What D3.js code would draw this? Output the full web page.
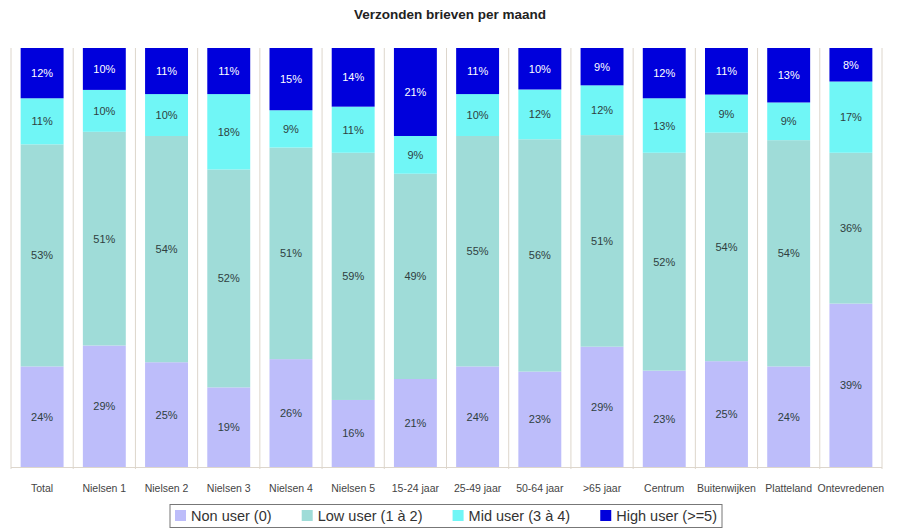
<!DOCTYPE html>
<html>
<head>
<meta charset="utf-8">
<script src="https://cdn.jsdelivr.net/npm/d3@7"></script>
<style>
  body { margin: 0; background: #fff; }
  svg { font-family: "Liberation Sans", Arial, sans-serif; }
</style>
</head>
<body>
<svg width="900" height="530"></svg>
<script>
var categories = ["Total", "Nielsen 1", "Nielsen 2", "Nielsen 3", "Nielsen 4", "Nielsen 5",
    "15-24 jaar", "25-49 jaar", "50-64 jaar", ">65 jaar", "Centrum", "Buitenwijken",
    "Platteland", "Ontevredenen"];
var seriesNames = ["Non user (0)", "Low user (1 à 2)", "Mid user (3 à 4)", "High user (>=5)"];
var nonUser  = [24, 29, 25, 19, 26, 16, 21, 24, 23, 29, 23, 25, 24, 39];
var lowUser  = [53, 51, 54, 52, 51, 59, 49, 55, 56, 51, 52, 54, 54, 36];
var midUser  = [11, 10, 10, 18,  9, 11,  9, 10, 12, 12, 13,  9,  9, 17];
var highUser = [12, 10, 11, 11, 15, 14, 21, 11, 10,  9, 12, 11, 13,  8];
var colors = ["#bdbdfa", "#9fdcd8", "#70f6f6", "#0000dc"];

var svg = d3.select("svg"),
    width = +svg.attr("width"),
    height = +svg.attr("height");

var margin = {top: 48, right: 18, bottom: 63, left: 11};
var x0 = margin.left, x1 = width - margin.right,
    yTop = margin.top, yBot = height - margin.bottom;

var keys = ["non", "low", "mid", "high"];
var rows = categories.map(function(c, i) {
    var r = {cat: c, non: nonUser[i], low: lowUser[i], mid: midUser[i], high: highUser[i]};
    r.total = r.non + r.low + r.mid + r.high;
    return r;
});

var x = d3.scaleBand()
    .domain(categories)
    .range([x0, x1])
    .paddingInner(0.31)
    .paddingOuter(0.155);

var y = d3.scaleLinear().domain([0, 1]).range([yBot, yTop]);

var stacked = d3.stack()
    .keys(keys)
    .value(function(d, k) { return d[k] / d.total; })(rows);

// title
svg.append("text")
    .attr("x", width / 2)
    .attr("y", 19)
    .attr("text-anchor", "middle")
    .style("font-size", "13.5px")
    .style("font-weight", "bold")
    .style("fill", "#222")
    .text("Verzonden brieven per maand");

// separators between categories
var step = x.step();
var seps = d3.range(categories.length + 1).map(function(i) { return x0 + i * step; });
svg.append("g")
    .selectAll("line")
    .data(seps)
    .enter().append("line")
    .attr("x1", function(d) { return d; })
    .attr("x2", function(d) { return d; })
    .attr("y1", yTop)
    .attr("y2", yBot + 2)
    .attr("stroke", "#ddd6cc")
    .attr("stroke-width", 1);

svg.append("line")
    .attr("x1", x0).attr("x2", x0 + categories.length * step)
    .attr("y1", yBot + 0.5).attr("y2", yBot + 0.5)
    .attr("stroke", "#ddd6cc");

var layer = svg.append("g")
    .selectAll("g")
    .data(stacked)
    .enter().append("g")
    .attr("fill", function(d, i) { return colors[i]; });

layer.selectAll("rect")
    .data(function(d) { return d; })
    .enter().append("rect")
    .attr("x", function(d) { return x(d.data.cat); })
    .attr("width", x.bandwidth())
    .attr("y", function(d) { return y(d[1]); })
    .attr("height", function(d) { return y(d[0]) - y(d[1]); });

// value labels
stacked.forEach(function(s, si) {
    svg.append("g")
        .selectAll("text")
        .data(s)
        .enter().append("text")
        .attr("x", function(d) { return x(d.data.cat) + x.bandwidth() / 2; })
        .attr("y", function(d) { return (y(d[0]) + y(d[1])) / 2 + 4; })
        .attr("text-anchor", "middle")
        .style("font-size", "11px")
        .style("fill", si === 3 ? "#ffffff" : "#2f3f3f")
        .text(function(d) { return d.data[s.key] + "%"; });
});

// category labels
svg.append("g")
    .selectAll("text")
    .data(categories)
    .enter().append("text")
    .attr("x", function(d) { return x(d) + x.bandwidth() / 2; })
    .attr("y", yBot + 25)
    .attr("text-anchor", "middle")
    .style("font-size", "10.5px")
    .style("fill", "#444")
    .text(function(d) { return d; });

// legend
var legend = svg.append("g");
var box = legend.append("rect")
    .attr("fill", "#fff")
    .attr("stroke", "#777")
    .attr("stroke-width", 1);
var items = legend.selectAll("g.item")
    .data(seriesNames)
    .enter().append("g")
    .attr("class", "item");
items.append("rect")
    .attr("width", 11).attr("height", 11)
    .attr("y", -11)
    .attr("fill", function(d, i) { return colors[i]; });
items.append("text")
    .attr("x", 16)
    .attr("y", 0)
    .style("font-size", "14.5px")
    .style("fill", "#333")
    .text(function(d) { return d; });

var boxW = 552, cx = 0, widths = [];
items.each(function() {
    var w = 16 + d3.select(this).select("text").node().getComputedTextLength();
    widths.push(w);
});
var gap = (boxW - 10 - d3.sum(widths)) / (widths.length - 1);
var lx = 446 - boxW / 2, ly = 521;
items.attr("transform", function(d, i) {
    var t = "translate(" + (lx + 5 + cx) + "," + ly + ")";
    cx += widths[i] + gap;
    return t;
});
box.attr("x", lx).attr("y", 504.5).attr("width", boxW).attr("height", 23);
</script>
</body>
</html>
